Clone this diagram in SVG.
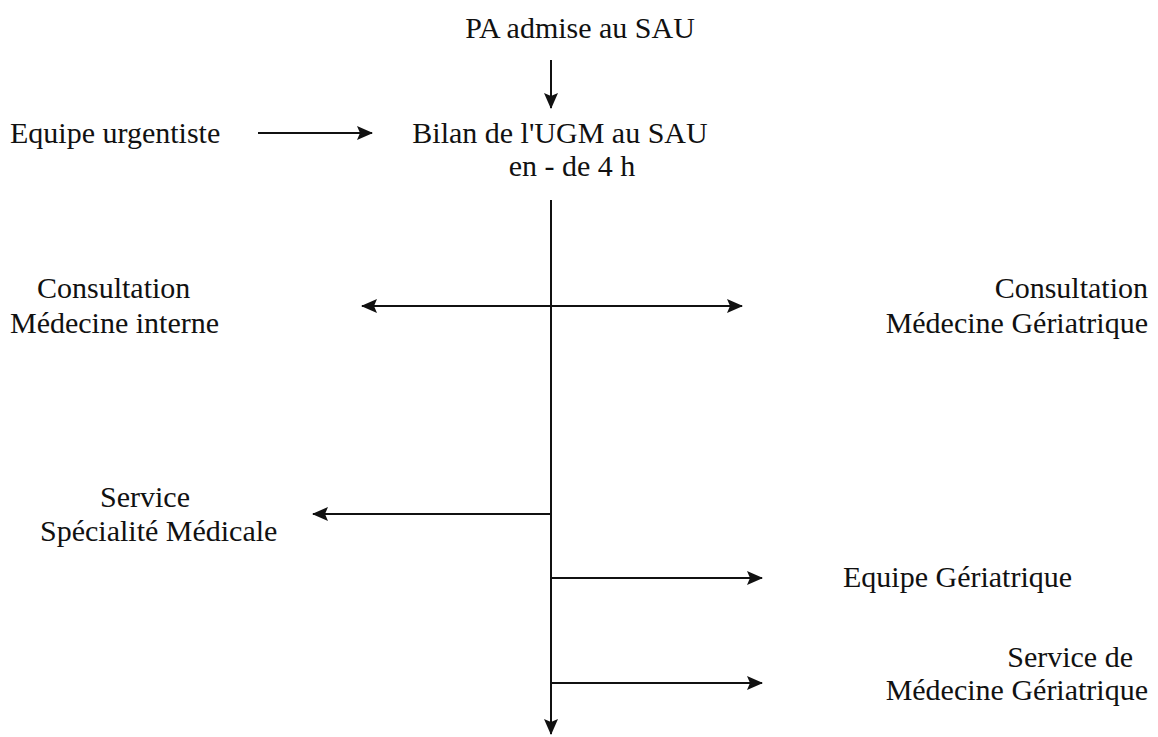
<svg xmlns="http://www.w3.org/2000/svg" width="1158" height="737" viewBox="0 0 1158 737">
<defs>
<style>
.t{font-family:Liberation Serif, Tinos, Times New Roman, DejaVu Serif, serif;font-size:30px;fill:#111}
.l{stroke:#111;stroke-width:2;fill:none}
</style>
<marker id="ah" viewBox="0 0 16 14" refX="15" refY="7" markerWidth="16" markerHeight="14" markerUnits="userSpaceOnUse" orient="auto-start-reverse">
<path d="M0,0 L16,7 L0,14 L3,7 Z" fill="#111"/>
</marker>
</defs>
<rect width="1158" height="737" fill="#fff"/>
<g id="n-pa"><text class="t" x="580" y="38" text-anchor="middle">PA admise au SAU</text></g>
<g id="n-equipe-urg"><text class="t" x="10" y="143">Equipe urgentiste</text></g>
<g id="n-bilan"><text class="t" x="560" y="143" text-anchor="middle">Bilan de l'UGM au SAU</text><text class="t" x="572" y="176" text-anchor="middle">en - de 4 h</text></g>
<g id="n-consult-mi"><text class="t" x="37" y="298">Consultation</text><text class="t" x="10" y="333">Médecine interne</text></g>
<g id="n-consult-mg"><text class="t" x="1148" y="298" text-anchor="end">Consultation</text><text class="t" x="1148" y="333" text-anchor="end">Médecine Gériatrique</text></g>
<g id="n-service-sm"><text class="t" x="100" y="507">Service</text><text class="t" x="40" y="541">Spécialité Médicale</text></g>
<g id="n-equipe-ger"><text class="t" x="843" y="587">Equipe Gériatrique</text></g>
<g id="n-service-mg"><text class="t" x="1133" y="667" text-anchor="end">Service de</text><text class="t" x="1148" y="700" text-anchor="end">Médecine Gériatrique</text></g>
<g id="connectors">
<line class="l" x1="551" y1="60" x2="551" y2="108" marker-end="url(#ah)"/>
<line class="l" x1="258" y1="133" x2="372" y2="133" marker-end="url(#ah)"/>
<line class="l" x1="551" y1="200" x2="551" y2="734" marker-end="url(#ah)"/>
<line class="l" x1="362" y1="306" x2="742" y2="306" marker-start="url(#ah)" marker-end="url(#ah)"/>
<line class="l" x1="551" y1="514" x2="313" y2="514" marker-end="url(#ah)"/>
<line class="l" x1="551" y1="578" x2="762" y2="578" marker-end="url(#ah)"/>
<line class="l" x1="551" y1="683" x2="762" y2="683" marker-end="url(#ah)"/>
</g>
</svg>
